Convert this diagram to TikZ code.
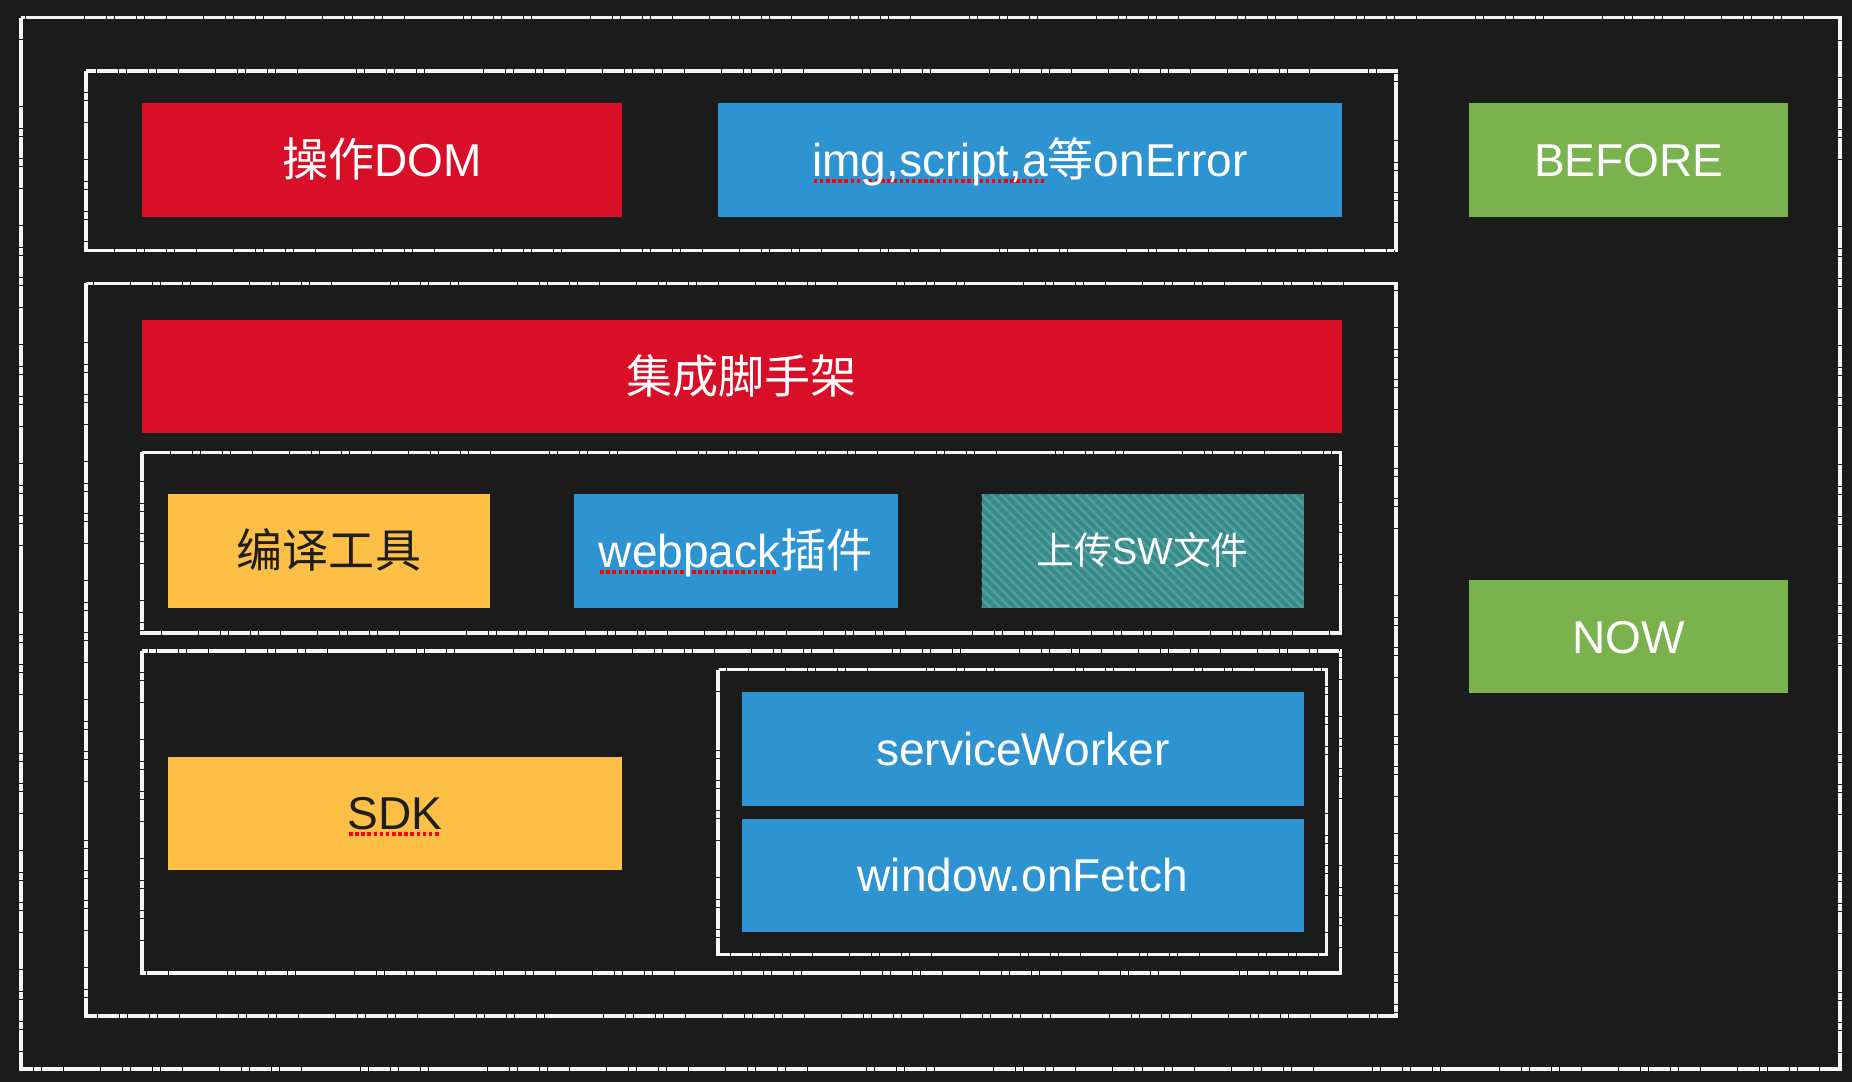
\documentclass[tikz,border=0pt]{standalone}
\usepackage{fontspec}
\setmainfont{Liberation Sans}
\newfontfamily\cjk{Noto Sans CJK SC}
\usetikzlibrary{calc}

\definecolor{bgblack}{HTML}{1B1B1B}
\definecolor{boxred}{HTML}{D90F27}
\definecolor{boxblue}{HTML}{2D93D1}
\definecolor{boxyellow}{HTML}{FDBF46}
\definecolor{boxgreen}{HTML}{7AB34D}
\definecolor{boxteal}{HTML}{37898A}
\definecolor{tealstripe}{HTML}{4E9E9E}
\definecolor{inkdark}{HTML}{1E1E1E}

% red dotted spell-check line under a word
\newcommand{\typo}[1]{\setbox0\hbox{#1}\rlap{\raisebox{-2.6pt}{\color{red}\hbox to \wd0{\leaders\hbox to 2.6pt{\hss\rule{1.5pt}{1.5pt}\hss}\hfill}}}\box0}

\begin{document}
\begin{tikzpicture}[x=0.5pt, y=-0.5pt,
    chalk/.style={white!92!gray, line width=1.5pt, dash pattern=on 9pt off 0.3pt on 3pt off 0.3pt},
    block/.style={inner sep=0pt, text=white, text height=14pt, text depth=0pt,
        font=\fontsize{19.5}{22}\selectfont},
    wide/.style={minimum height=48pt},
    ]

    \fill[bgblack] (0, 0) rectangle (1568, 916);
    \useasboundingbox (0, 0) rectangle (1568, 916);

    % frames
    \draw[chalk] (18, 15) rectangle (1558, 905);
    \draw[chalk] (73, 60) rectangle (1182, 212);
    \draw[chalk] (73, 240) rectangle (1182, 860);
    \draw[chalk] (120, 383) rectangle (1135, 536);
    \draw[chalk] (120, 551) rectangle (1135, 824);
    \draw[chalk] (608, 567) rectangle (1123, 808);

    % before
    \node[block, wide, fill=boxred, minimum width=203.5pt] (dom) at (323.5, 135.5) {{\cjk 操作}DOM};
    \node[block, wide, fill=boxblue, minimum width=264pt] (onerror) at (872, 135.5) {\typo{img,script,a}{\cjk 等}onError};
    \node[block, wide, fill=boxgreen, minimum width=135pt] (before) at (1379, 135.5) {BEFORE};

    % now
    \node[block, wide, fill=boxred, minimum width=508pt] (scaffold) at (628, 319) {\cjk 集成脚手架};
    \node[block, wide, fill=boxyellow, text=inkdark, minimum width=136.5pt] (compiler) at (278.5, 466.5) {\cjk 编译工具};
    \node[block, wide, fill=boxblue, minimum width=137pt] (webpack) at (623, 466.5) {\typo{webpack}{\cjk 插件}};
    \node[block, wide, fill=boxteal, minimum width=136.5pt, text height=11.5pt, font=\fontsize{16}{18}\selectfont,
        path picture={
            \foreach \s in {-52,-48,...,140}
                \draw[tealstripe, line width=1.1pt] ([xshift=\s pt]path picture bounding box.north west) -- ++(52pt, -52pt);
        }] (upload) at (967.5, 466.5) {{\cjk 上传}SW{\cjk 文件}};
    \node[block, wide, fill=boxyellow, text=inkdark, minimum width=192.5pt] (sdk) at (334.5, 688.5) {\typo{SDK}};
    \node[block, wide, fill=boxblue, minimum width=238pt] (sw) at (866, 634) {serviceWorker};
    \node[block, wide, fill=boxblue, minimum width=238pt] (fetch) at (866, 741) {window.onFetch};
    \node[block, wide, fill=boxgreen, minimum width=135pt] (now) at (1379, 539) {NOW};

\end{tikzpicture}
\end{document}
